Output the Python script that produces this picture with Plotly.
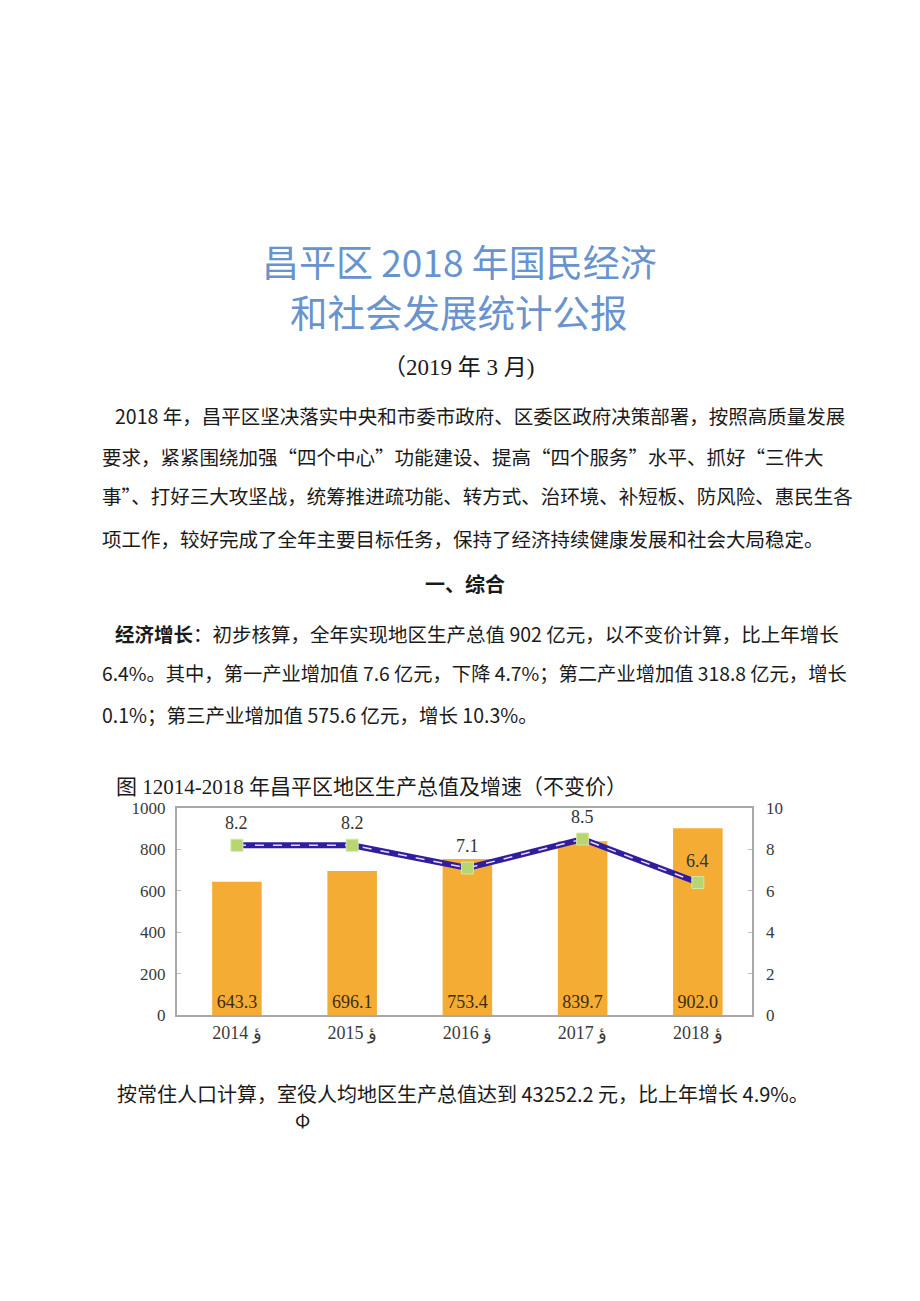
# 昌平区 2018 年统计公报 page with the GDP chart

import plotly.graph_objects as go

W, H = 920, 1301
OX, OY = 8, 8  # page offset of the figure inside the browser body

years = ["2014", "2015", "2016", "2017", "2018"]
year_suffix = "ؤ"
gdp = [643.3, 696.1, 753.4, 839.7, 902.0]
growth = [8.2, 8.2, 7.1, 8.5, 6.4]

title_lines = ["昌平区 2018 年国民经济", "和社会发展统计公报"]
date_line = "（2019 年 3 月)"
para1 = [
    "2018 年，昌平区坚决落实中央和市委市政府、区委区政府决策部署，按照高质量发展",
    "要求，紧紧围绕加强“四个中心”功能建设、提高“四个服务”水平、抓好“三件大",
    "事”、打好三大攻坚战，统筹推进疏功能、转方式、治环境、补短板、防风险、惠民生各",
    "项工作，较好完成了全年主要目标任务，保持了经济持续健康发展和社会大局稳定。",
]
section = "一、综合"
para2 = [
    "<b>经济增长</b>：初步核算，全年实现地区生产总值 902 亿元，以不变价计算，比上年增长",
    "6.4%。其中，第一产业增加值 7.6 亿元，下降 4.7%；第二产业增加值 318.8 亿元，增长",
    "0.1%；第三产业增加值 575.6 亿元，增长 10.3%。",
]
chart_title = "图 12014-2018 年昌平区地区生产总值及增速（不变价）"
after_line = "按常住人口计算，室役人均地区生产总值达到 43252.2 元，比上年增长 4.9%。"

cats = [y + " " + year_suffix for y in years]

CJK = "Noto Sans CJK SC"
SERIF = "Liberation Serif, Noto Sans CJK SC"


def px(x):
    return (x - OX) / W


def py(y):
    return 1 - (y - OY) / H


fig = go.Figure()

fig.add_trace(go.Bar(
    x=cats, y=gdp,
    marker=dict(color="#f5ac35", line=dict(width=0)),
    width=0.43,
    text=[f"{v:.1f}" for v in gdp],
    textposition="inside",
    insidetextanchor="start",
    textangle=0,
    textfont=dict(family="Liberation Serif", size=18, color="#3b2c12"),
    cliponaxis=False,
))

# growth line drawn as a wide band with a light dashed core
fig.add_trace(go.Scatter(
    x=cats, y=growth, yaxis="y2", mode="lines",
    line=dict(color="#2e1f9e", width=6),
))
fig.add_trace(go.Scatter(
    x=cats, y=growth, yaxis="y2", mode="lines",
    line=dict(color="#f1d6ef", width=1.5, dash="dash"),
))
fig.add_trace(go.Scatter(
    x=cats, y=growth, yaxis="y2", mode="markers",
    marker=dict(symbol="square", size=12, color="#b7d672",
                line=dict(color="#d4e6a6", width=1)),
))

for c, g in zip(cats, growth):
    fig.add_annotation(x=c, y=g, xref="x", yref="y2", text=f"{g:.1f}",
                       showarrow=False, yshift=22,
                       font=dict(family="Liberation Serif", size=18, color="#333"))


def txt(s, x, y, size=19.5, color="#1a1a1a", family=CJK, anchor="left"):
    fig.add_annotation(x=px(x - 2), y=py(y), xref="paper", yref="paper", text=s,
                       showarrow=False, xanchor=anchor, yanchor="middle",
                       borderpad=0,
                       font=dict(family=family, size=size, color=color))


txt(title_lines[0], 461, 261, size=37, color="#6893cf", anchor="center")
txt(title_lines[1], 461, 310, size=37.5, color="#6893cf", anchor="center")
txt(date_line, 460, 367, size=23, family=SERIF, anchor="center")

for i, s in enumerate(para1):
    txt(s, 116 if i == 0 else 103, [416, 456, 496, 538][i])

txt("<b>" + section + "</b>", 467, 583, size=20, anchor="center")

for i, s in enumerate(para2):
    txt(s, 116 if i == 0 else 103, [633, 673, 714][i],
        size=[19.5, 19.3, 19.5][i])

txt(chart_title, 117, 787, size=21, family=SERIF)
txt(after_line, 118, 1093, size=20)
txt("Φ", 296, 1119, size=19)

axis_font = dict(family="Liberation Serif", size=17, color="#3a3a3a")

fig.update_layout(
    width=W, height=H,
    margin=dict(l=0, r=0, t=0, b=0, pad=0, autoexpand=False),
    paper_bgcolor="white", plot_bgcolor="white",
    showlegend=False,
    xaxis=dict(domain=[px(177), px(752)], type="category", automargin=False,
               range=[-0.52, 4.47],
               showline=True, linecolor="#a8a8a8", linewidth=2, mirror=True,
               ticks="", tickfont=dict(family="Liberation Serif", size=18,
                                       color="#3a3a3a"),
               showgrid=False, zeroline=False),
    yaxis=dict(range=[0, 1000], dtick=200, domain=[py(1015), py(808)],
               automargin=False,
               showline=True, linecolor="#a8a8a8", linewidth=2, mirror=True,
               ticks="inside", ticklen=4, tickcolor="#c0c0c0",
               ticklabelstandoff=6,
               tickfont=axis_font, showgrid=False, zeroline=False),
    yaxis2=dict(range=[0, 10], dtick=2, overlaying="y", side="right",
                anchor="x", automargin=False,
                ticks="inside", ticklen=4, tickcolor="#c0c0c0",
                ticklabelstandoff=13,
                tickfont=axis_font, showgrid=False, zeroline=False,
                showline=False),
)

fig.write_html("out.html")
